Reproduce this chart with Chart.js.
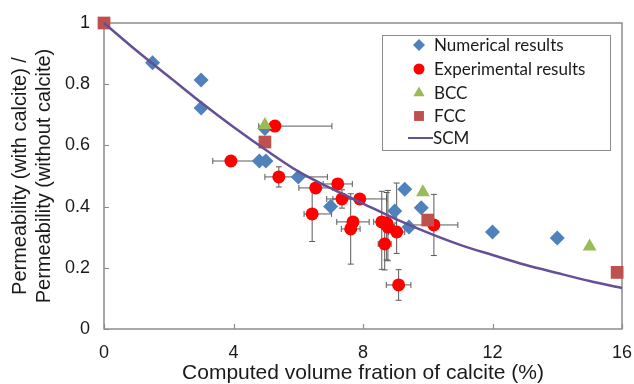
<!DOCTYPE html>
<html>
<head>
<meta charset="utf-8">
<script src="https://cdn.jsdelivr.net/npm/chart.js@4"></script>
<style>
  html, body { margin: 0; padding: 0; background: #fff; }
  #wrap { width: 634px; height: 384px; }
</style>
</head>
<body>
<div id="wrap"><canvas id="chart" width="634" height="384"></canvas></div>
<script>
// Numerical results (diamonds)
const numX = [1.5, 3.0, 3.0, 4.97, 4.8, 5.0, 6.0, 7.0, 8.98, 9.29, 9.8, 9.42, 12.0, 14.0]
const numY = [0.87, 0.814, 0.722, 0.655, 0.549, 0.549, 0.497, 0.40, 0.386, 0.457, 0.396, 0.333, 0.317, 0.297]

// Experimental results (circles) + error bars (minus / plus)
const expX = [5.28, 3.92, 5.40, 6.54, 6.43, 7.22, 7.35, 7.90, 7.69, 7.62, 8.58, 8.73, 8.77, 9.04, 8.67, 9.10, 10.19]
const expY = [0.663, 0.549, 0.497, 0.461, 0.376, 0.474, 0.425, 0.425, 0.350, 0.327, 0.350, 0.346, 0.333, 0.317, 0.278, 0.144, 0.340]
const expXMinus = [0.50, 0.56, 0.43, 0.52, 0.25, 0.45, 0.47, 0.83, 0.50, 0.29, 0.25, 0.30, 0.20, 0.25, 0.20, 0.38, 0.74]
const expXPlus = [1.76, 0.80, 1.50, 0.52, 0.60, 0.45, 0.45, 0.83, 0.50, 0.29, 0.25, 0.30, 0.20, 0.25, 0.20, 0.38, 0.74]
const expYMinus = [0, 0, 0.033, 0, 0.090, 0, 0.03, 0, 0, 0.115, 0.155, 0.12, 0.11, 0.07, 0.085, 0.05, 0.10]
const expYPlus = [0, 0, 0.033, 0, 0.085, 0, 0.03, 0, 0, 0.115, 0.100, 0.10, 0.12, 0.16, 0.085, 0.05, 0.10]

// BCC (triangles) and FCC (squares)
const bccX = [4.97, 9.85, 15.0]
const bccY = [0.667, 0.447, 0.270]
const fccX = [0, 4.97, 10.0, 15.85]
const fccY = [1.0, 0.611, 0.356, 0.185]

// SCM curve
const scmX = [0, 1, 2, 3, 4, 5, 6, 7, 8, 9, 10, 11, 12, 13, 14, 15, 16]
const scmY = [1.0, 0.91, 0.825, 0.74, 0.66, 0.585, 0.515, 0.46, 0.41, 0.36, 0.315, 0.275, 0.242, 0.21, 0.183, 0.157, 0.134]

const xTicks = [0, 4, 8, 12, 16]
const yTicks = [0, 0.2, 0.4, 0.6, 0.8, 1]

const pts = (xs, ys) => xs.map((x, i) => ({ x: x, y: ys[i] }))
const AXIS_GRAY = '#8c8c8c'
const TXT = '#1a1a1a'
const FONT = '"Liberation Sans", Arial, sans-serif'

const legendItems = [
  { label: 'Numerical results', style: 'rectRot', r: 6, color: '#4F81BD' },
  { label: 'Experimental results', style: 'circle', r: 5.5, color: '#FF0000' },
  { label: 'BCC', style: 'triangle', r: 6.5, color: '#9BBB59' },
  { label: 'FCC', style: 'rect', r: 7, color: '#C0504D' },
  { label: 'SCM', style: 'line', color: '#654F95' }
]

const decorPlugin = {
  id: 'decor',
  beforeDatasetsDraw(chart) {
    const { ctx, chartArea: a, scales: { x, y } } = chart
    ctx.save()
    ctx.strokeStyle = AXIS_GRAY
    ctx.lineWidth = 1.2
    ctx.beginPath()
    xTicks.forEach((v) => { const px = Math.round(x.getPixelForValue(v)) + 0.5; ctx.moveTo(px, a.bottom); ctx.lineTo(px, a.bottom - 5) })
    yTicks.forEach((v) => { const py = Math.round(y.getPixelForValue(v)) + 0.5; ctx.moveTo(a.left, py); ctx.lineTo(a.left + 5, py) })
    ctx.stroke()
    ctx.lineWidth = 1.5
    ctx.strokeRect(a.left, a.top, a.width, a.height)

    // error bars
    ctx.strokeStyle = '#5a5a5a'
    ctx.lineWidth = 1
    ctx.beginPath()
    expX.forEach((vx, i) => {
      const cx = x.getPixelForValue(vx), cy = y.getPixelForValue(expY[i])
      if (expXMinus[i] || expXPlus[i]) {
        const x1 = x.getPixelForValue(vx - expXMinus[i]), x2 = x.getPixelForValue(vx + expXPlus[i])
        ctx.moveTo(x1, cy); ctx.lineTo(x2, cy)
        ctx.moveTo(x1, cy - 3); ctx.lineTo(x1, cy + 3)
        ctx.moveTo(x2, cy - 3); ctx.lineTo(x2, cy + 3)
      }
      if (expYMinus[i] || expYPlus[i]) {
        const y1 = y.getPixelForValue(expY[i] - expYMinus[i]), y2 = y.getPixelForValue(expY[i] + expYPlus[i])
        ctx.moveTo(cx, y1); ctx.lineTo(cx, y2)
        ctx.moveTo(cx - 3, y1); ctx.lineTo(cx + 3, y1)
        ctx.moveTo(cx - 3, y2); ctx.lineTo(cx + 3, y2)
      }
    })
    ctx.stroke()
    ctx.restore()
  },
  afterDraw(chart) {
    const ctx = chart.ctx
    ctx.save()
    ctx.fillStyle = '#fff'
    ctx.fillRect(382.5, 35.5, 228, 115)
    ctx.strokeStyle = AXIS_GRAY
    ctx.lineWidth = 1
    ctx.strokeRect(382.5, 35.5, 228, 115)
    const rowY = [45, 69, 93, 116, 138]
    ctx.font = '17px Lato, "Liberation Sans", sans-serif'
    ctx.textBaseline = 'middle'
    legendItems.forEach((it, i) => {
      const yy = rowY[i]
      if (it.style === 'line') {
        ctx.strokeStyle = it.color; ctx.lineWidth = 2
        ctx.beginPath(); ctx.moveTo(408, yy); ctx.lineTo(433, yy); ctx.stroke()
      } else {
        ctx.fillStyle = it.color
        Chart.helpers.drawPoint(ctx, { pointStyle: it.style, radius: it.r, rotation: 0, borderWidth: 0 }, 419, yy)
      }
      ctx.fillStyle = TXT
      ctx.fillText(it.label, it.style === 'line' ? 433 : 434, yy + 1)
    })
    ctx.restore()
  }
}

function pointSet(label, xs, ys, style, r, color, order) {
  return {
    type: 'scatter', label: label, data: pts(xs, ys), order: order, clip: false,
    pointStyle: style, pointRadius: r, pointHoverRadius: r,
    backgroundColor: color, borderColor: color, pointBorderWidth: 0
  }
}

const ctx = document.getElementById('chart').getContext('2d')
new Chart(ctx, {
  data: {
    datasets: [
      pointSet('Numerical results', numX, numY, 'rectRot', 7.5, '#4F81BD', 4),
      pointSet('Experimental results', expX, expY, 'circle', 6.5, '#FF0000', 3),
      pointSet('BCC', bccX, bccY, 'triangle', 8, '#9BBB59', 2),
      pointSet('FCC', fccX, fccY, 'rect', 9, '#C0504D', 1),
      { type: 'line', label: 'SCM', data: pts(scmX, scmY), order: 0, clip: false,
        borderColor: '#654F95', borderWidth: 2.5, pointRadius: 0, fill: false, cubicInterpolationMode: 'monotone' }
    ]
  },
  options: {
    responsive: false,
    animation: false,
    events: [],
    layout: { padding: { top: 23, right: 12, left: 0, bottom: 0 } },
    plugins: { legend: { display: false }, tooltip: { enabled: false } },
    scales: {
      x: {
        type: 'linear', min: 0, max: 16,
        afterBuildTicks: (s) => { s.ticks = xTicks.map((v) => ({ value: v })) },
        afterFit: (s) => { s.height = 55; s.paddingLeft = 0; s.paddingRight = 0 },
        grid: { display: false, drawTicks: false },
        border: { display: false },
        ticks: { padding: 13, color: TXT, font: { family: FONT, size: 18 } },
        title: { display: true, text: 'Computed volume fration of calcite (%)', color: TXT, padding: { top: 0, bottom: 0 },
          font: { family: FONT, size: 21, lineHeight: 1.0 } }
      },
      y: {
        type: 'linear', min: 0, max: 1,
        afterBuildTicks: (s) => { s.ticks = yTicks.map((v) => ({ value: v })) },
        afterFit: (s) => { s.width = 104; s.paddingTop = 0; s.paddingBottom = 0 },
        grid: { display: false, drawTicks: false },
        border: { display: false },
        ticks: { padding: 14, color: TXT, callback: (v) => String(+v.toFixed(1)), font: { family: FONT, size: 18 } },
        title: { display: true, text: ['Permeability (with calcite) /', 'Permeability (without calcite)'], color: TXT,
          padding: { top: 8, bottom: 0 }, font: { family: FONT, size: 20, lineHeight: 1.2 } }
      }
    }
  },
  plugins: [decorPlugin]
})
</script>
</body>
</html>
